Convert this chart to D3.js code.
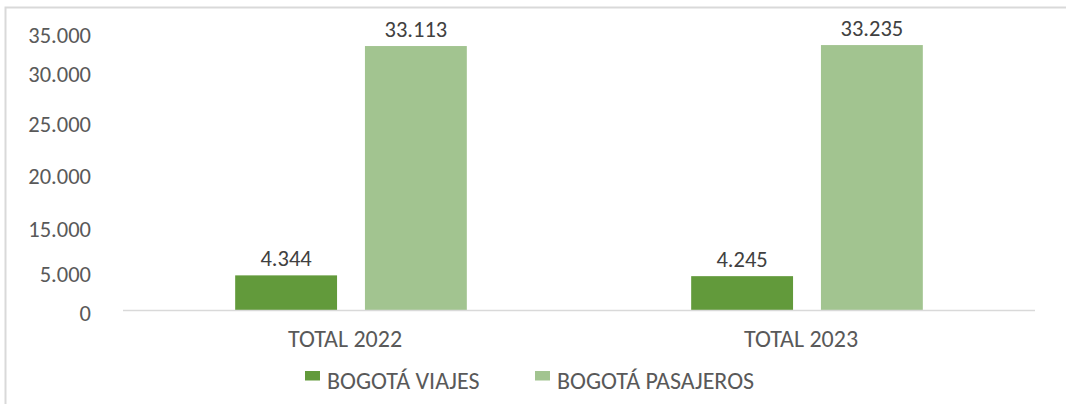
<!DOCTYPE html>
<html>
<head>
<meta charset="utf-8">
<script src="https://cdn.jsdelivr.net/npm/d3@7"></script>
<style>
  body { margin: 0; background: #fff; }
  svg text { font-family: Calibri, Carlito, "Open Sans", sans-serif; }
</style>
</head>
<body>
<div id="chart"></div>
<script>
// data
const categories = ['TOTAL 2022', 'TOTAL 2023']
const seriesNames = ['BOGOTÁ VIAJES', 'BOGOTÁ PASAJEROS']
const viajes = [4344, 4245]
const pasajeros = [33113, 33235]
const seriesColors = ['#629a3b', '#a2c490']
// tick labels as printed on the source axis, and where they sit on the value axis
const yTickLabels = ['0', '5.000', '15.000', '20.000', '25.000', '30.000', '35.000']
const yTickAt = [0, 4800, 10500, 17200, 23700, 29900, 34900]

const W = 1066, H = 404
const svg = d3.select('#chart').append('svg').attr('width', W).attr('height', H)

// outer frame
svg.append('rect')
  .attr('x', 5.5).attr('y', 7.5)
  .attr('width', W + 10).attr('height', H + 10)
  .attr('fill', 'none').attr('stroke', '#d9d9d9').attr('stroke-width', 2)

const fmt = v => d3.format(',')(v).replace(/,/g, '.')

var x0 = d3.scaleBand().domain(categories).range([123, 1035]).padding(0)
var groupW = x0.bandwidth() * 0.508
var x1 = d3.scaleBand().domain(seriesNames).range([-groupW / 2, groupW / 2]).paddingInner(0.215)
var y = d3.scaleLinear().domain([0, 35000]).range([310, 31])

// y axis (text only)
const yAxis = svg.append('g')
  .attr('transform', 'translate(91,0)')
  .call(d3.axisLeft(y).tickValues(yTickAt).tickSize(0).tickPadding(0)
    .tickFormat((d, i) => yTickLabels[i]))
yAxis.select('.domain').remove()
yAxis.selectAll('text')
  .attr('dy', '0.32em')
  .attr('transform', 'translate(0,3)')
  .style('font-size', '22.5px')
  .style('fill', '#595959')

const rows = categories.map((c, i) => ({ cat: c, vals: [viajes[i], pasajeros[i]] }))

const groups = svg.selectAll('.grp')
  .data(rows)
  .enter().append('g')
  .attr('class', 'grp')
  .attr('transform', d => 'translate(' + (x0(d.cat) + x0.bandwidth() / 2) + ',0)')

groups.selectAll('rect')
  .data(d => d.vals.map((v, j) => ({ name: seriesNames[j], v: v, j: j })))
  .enter().append('rect')
  .attr('x', d => x1(d.name))
  .attr('width', x1.bandwidth())
  .attr('y', d => y(d.v))
  .attr('height', d => y(0) - y(d.v))
  .style('fill', d => seriesColors[d.j])

groups.selectAll('.lbl')
  .data(d => d.vals.map((v, j) => ({ name: seriesNames[j], v: v })))
  .enter().append('text')
  .attr('class', 'lbl')
  .attr('x', d => x1(d.name) + x1.bandwidth() / 2)
  .attr('y', d => y(d.v) - 9.5)
  .attr('text-anchor', 'middle')
  .style('font-size', '22.5px')
  .style('fill', '#404040')
  .text(d => fmt(d.v))

// category axis
svg.append('line')
  .attr('x1', 123).attr('x2', 1035)
  .attr('y1', y(0) + 0.5).attr('y2', y(0) + 0.5)
  .attr('stroke', '#d9d9d9').attr('stroke-width', 1.5)

svg.selectAll('.cat')
  .data(categories)
  .enter().append('text')
  .attr('class', 'cat')
  .attr('x', d => x0(d) + x0.bandwidth() / 2 - 6)
  .attr('y', 347)
  .attr('text-anchor', 'middle')
  .style('font-size', '24px')
  .style('fill', '#595959')
  .text(d => d)

// legend
const legX = [305, 535]
const leg = svg.selectAll('.leg')
  .data(seriesNames)
  .enter().append('g')
  .attr('class', 'leg')
  .attr('transform', (d, i) => 'translate(' + legX[i] + ',0)')
leg.append('rect')
  .attr('x', 0).attr('y', 371)
  .attr('width', 15).attr('height', 9.5)
  .style('fill', (d, i) => seriesColors[i])
leg.append('text')
  .attr('x', 22).attr('y', 389)
  .style('font-size', '24px')
  .style('fill', '#595959')
  .text(d => d)
</script>
</body>
</html>
